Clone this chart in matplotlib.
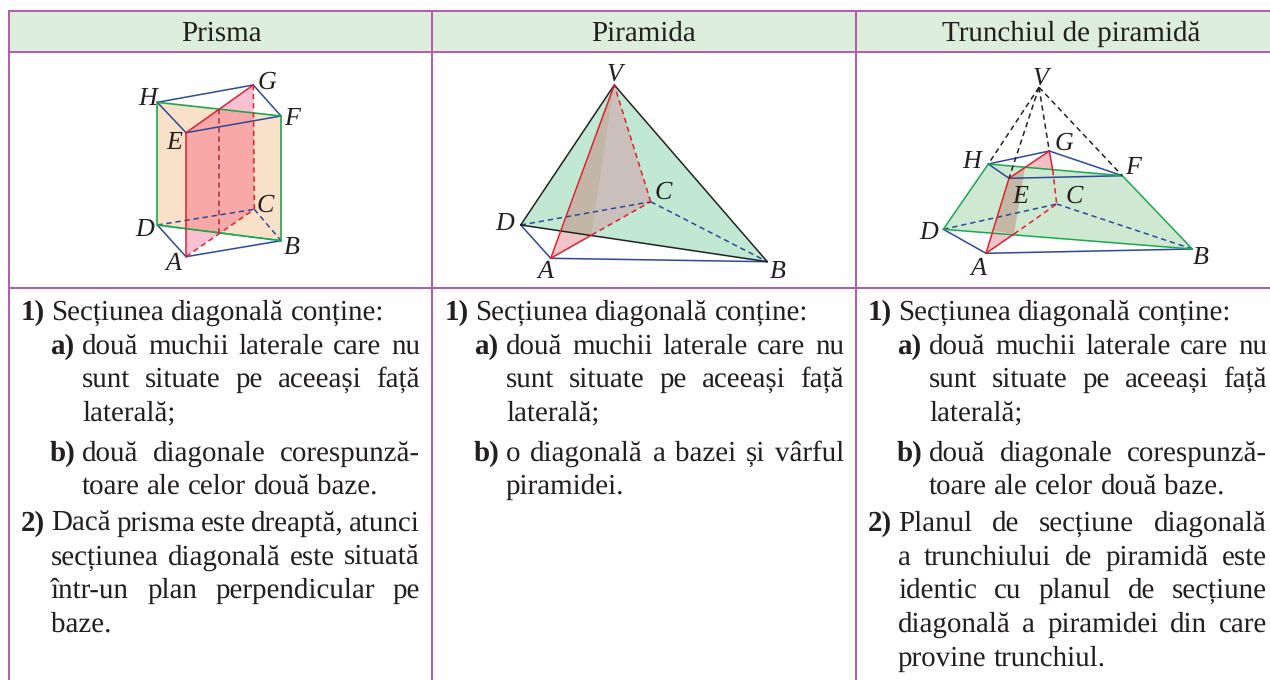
import matplotlib
matplotlib.use("Agg")
import matplotlib.pyplot as plt
from matplotlib.patches import Polygon, Rectangle

plt.rcParams["text.hinting"] = "none"
plt.rcParams["text.hinting_factor"] = 1

W, H = 1270, 680
SERIF = ["Liberation Serif", "DejaVu Serif"]

headers = ["Prisma", "Piramida", "Trunchiul de piramidă"]
header_x = [221, 644, 1071]

prism = dict(H=(157.3, 102.3), G=(253.3, 85), F=(281, 116), E=(186, 132.7),
             D=(157.3, 225), C=(254.3, 209.3), B=(281, 240.7), A=(186, 256.7),
             P=(219.3, 109.3), Q=(219.3, 233.3), X=(253.3, 113), R=(186, 229.6))
pyramid = dict(V=(614.3, 85), D=(520.7, 225), C=(650.7, 201.7), B=(767.3, 261.7),
               A=(550.7, 258.3), Q=(591.7, 235), R=(561.7, 231))
trunk = dict(V=(1039, 87.3), G=(1049.3, 151), H=(988.3, 164), F=(1122.3, 175.7),
             E=(1009, 178.3), C=(1056.7, 204), D=(943.3, 229.3), B=(1192.3, 249),
             A=(986, 253.3), P=(1025, 167.7), Q=(1014, 234), R=(992.7, 231), X=(1052.7, 170))

prism_labels = dict(H=(148, 97), G=(267, 81), F=(292, 117), E=(174, 141),
                    D=(145, 228), C=(265, 204), B=(292, 246), A=(173, 262))
pyramid_labels = dict(V=(615, 72), D=(505, 222), C=(663, 191), B=(778, 270), A=(545, 270))
trunk_labels = dict(V=(1041, 76), G=(1064, 142), H=(972, 160), F=(1133, 166),
                    E=(1020, 195), C=(1074, 195), D=(929, 231), B=(1201, 256), A=(978, 267))

col_left = [21, 445, 868]

col1 = [
    ("1)", "Secțiunea diagonală conține:", 0, False),
    ("a)", "două muchii laterale care nu", 1, True),
    ("", "sunt situate pe aceeași față", 2, True),
    ("", "laterală;", 2, False),
    ("b)", "două diagonale corespunză-", 1, True),
    ("", "toare ale celor două baze.", 2, False),
    ("2)", "Dacă prisma este dreaptă, atunci", 0, True),
    ("", "secțiunea diagonală este situată", 3, True),
    ("", "într-un plan perpendicular pe", 3, True),
    ("", "baze.", 3, False),
]
col2 = [
    ("1)", "Secțiunea diagonală conține:", 0, False),
    ("a)", "două muchii laterale care nu", 1, True),
    ("", "sunt situate pe aceeași față", 2, True),
    ("", "laterală;", 2, False),
    ("b)", "o diagonală a bazei și vârful", 1, True),
    ("", "piramidei.", 2, False),
]
col3 = [
    ("1)", "Secțiunea diagonală conține:", 0, False),
    ("a)", "două muchii laterale care nu", 1, True),
    ("", "sunt situate pe aceeași față", 2, True),
    ("", "laterală;", 2, False),
    ("b)", "două diagonale corespunză-", 1, True),
    ("", "toare ale celor două baze.", 2, False),
    ("2)", "Planul de secțiune diagonală", 0, True),
    ("", "a trunchiului de piramidă este", 3, True),
    ("", "identic cu planul de secțiune", 3, True),
    ("", "diagonală a piramidei din care", 3, True),
    ("", "provine trunchiul.", 3, False),
]
baselines = [320, 354, 387, 421, 461, 494, 531, 565, 598, 632, 666]

fig = plt.figure(figsize=(W / 100, H / 100), dpi=100, facecolor="white")
ax = fig.add_axes([0, 0, 1, 1])
ax.set_xlim(0, W)
ax.set_ylim(H, 0)
ax.axis("off")

GRID = "#b45aa8"
BLUE = "#2b4a9b"
RED = "#e0202f"
GREEN = "#1aa850"
BLACK = "#222222"
TEXT = "#231f20"
DASH = (0, (3.5, 2.5))
FS = 21.2

ax.add_patch(Rectangle((9, 11), 1261, 41, fc="#deeedc", ec="none", zorder=0))
for y in (11, 52, 288):
    ax.plot([9, 1270], [y, y], color=GRID, lw=1.4, zorder=1)
for x in (9, 432, 856):
    ax.plot([x, x], [11, 680], color=GRID, lw=1.4, zorder=1)

for x, s in zip(header_x, headers):
    ax.text(x, 41, s, ha="center", va="baseline", family=SERIF, fontsize=20.8, color=TEXT)


def fill(v, names, color):
    ax.add_patch(Polygon([v[n] for n in names], closed=True, fc=color, ec="none", zorder=2))


def seg(v, names, color, dashed=False, lw=1.1):
    for a, b in zip(names, names[1:]):
        ax.plot([v[a][0], v[b][0]], [v[a][1], v[b][1]], color=color, lw=lw,
                ls=DASH if dashed else "-", zorder=4, solid_capstyle="round")


def labels(lab):
    for k, (x, y) in lab.items():
        ax.text(x, y + 2, k, ha="center", va="center", style="italic", family=SERIF,
                fontsize=18.5, color=TEXT, zorder=5)


# prism
v = prism
fill(v, "HFBD", "#f9e0c8")
fill(v, "PGX", "#f9c0d2")
fill(v, "ARQ", "#f9c0d2")
fill(v, "EPXCQR", "#f9a8a8")
seg(v, "HGF", BLUE); seg(v, "HE", BLUE); seg(v, "EF", BLUE)
seg(v, "DAB", BLUE); seg(v, "DC", BLUE, True); seg(v, "CB", BLUE, True)
seg(v, "HFBD", GREEN, lw=1.2); seg(v, "DB", GREEN, True); seg(v, "DH", GREEN, lw=1.2)
seg(v, "GE", RED); seg(v, "EA", RED); seg(v, "AC", RED, True); seg(v, "CG", RED, True)
seg(v, "PQ", "#a0303f", True)
labels(prism_labels)

# pyramid
v = pyramid
fill(v, "VDB", "#c0e8d2")
fill(v, "VQC", "#cbbfbc")
fill(v, "VRQ", "#c4b6a6")
fill(v, "ARQ", "#f2c4c8")
seg(v, "DAB", BLUE); seg(v, "DC", BLUE, True); seg(v, "CB", BLUE, True)
seg(v, "VD", BLACK); seg(v, "DB", BLACK); seg(v, "VB", BLACK)
seg(v, "VA", RED); seg(v, "AQ", RED); seg(v, "QC", RED, True); seg(v, "CV", RED, True)
labels(pyramid_labels)

# frustum
v = trunk
fill(v, "HFBD", "#cfe8d2")
fill(v, "PGX", "#f2c0c4")
fill(v, "EPQR", "#c4b8a4")
fill(v, "ARQ", "#f2c4c8")
seg(v, "HGF", BLUE); seg(v, "HE", BLUE); seg(v, "EF", BLUE)
seg(v, "DAB", BLUE); seg(v, "DC", BLUE, True); seg(v, "CB", BLUE, True)
seg(v, "HF", GREEN); seg(v, "FB", GREEN); seg(v, "DB", GREEN); seg(v, "DH", GREEN)
seg(v, "GE", RED); seg(v, "EA", RED); seg(v, "AQ", RED); seg(v, "QC", RED, True)
seg(v, "GX", RED); seg(v, "XC", RED, True)
for n in "HEGF":
    seg(v, "V" + n, BLACK, True)
labels(trunk_labels)

renderer = fig.canvas.get_renderer()


def width(s):
    t = ax.text(0, 0, s, fontsize=FS, family=SERIF)
    w = t.get_window_extent(renderer).width
    t.remove()
    return w


SPACE = width("a a") - 2 * width("a")


def draw_line(x, right, y, s, just):
    words = s.split(" ")
    ws = [width(w) for w in words]
    gap = (right - x - sum(ws)) / (len(words) - 1) if just and len(words) > 1 else SPACE
    for w, wd in zip(words, ws):
        ax.text(x, y, w, fontsize=FS, family=SERIF, color=TEXT, va="baseline")
        x += wd + gap


for left, col in zip(col_left, (col1, col2, col3)):
    right = left + 399
    for (mark, s, lvl, just), y in zip(col, baselines):
        if lvl == 0:
            ax.text(left, y, mark, fontsize=FS, family=SERIF, weight="bold", color=TEXT, va="baseline")
            draw_line(left + 30, right, y, s, just)
        elif lvl == 1:
            ax.text(left + 29, y, mark, fontsize=FS, family=SERIF, weight="bold", color=TEXT, va="baseline")
            draw_line(left + 61, right, y, s, just)
        elif lvl == 2:
            draw_line(left + 61, right, y, s, just)
        else:
            draw_line(left + 30, right, y, s, just)

fig.savefig("out.png", dpi=100, facecolor="white")
